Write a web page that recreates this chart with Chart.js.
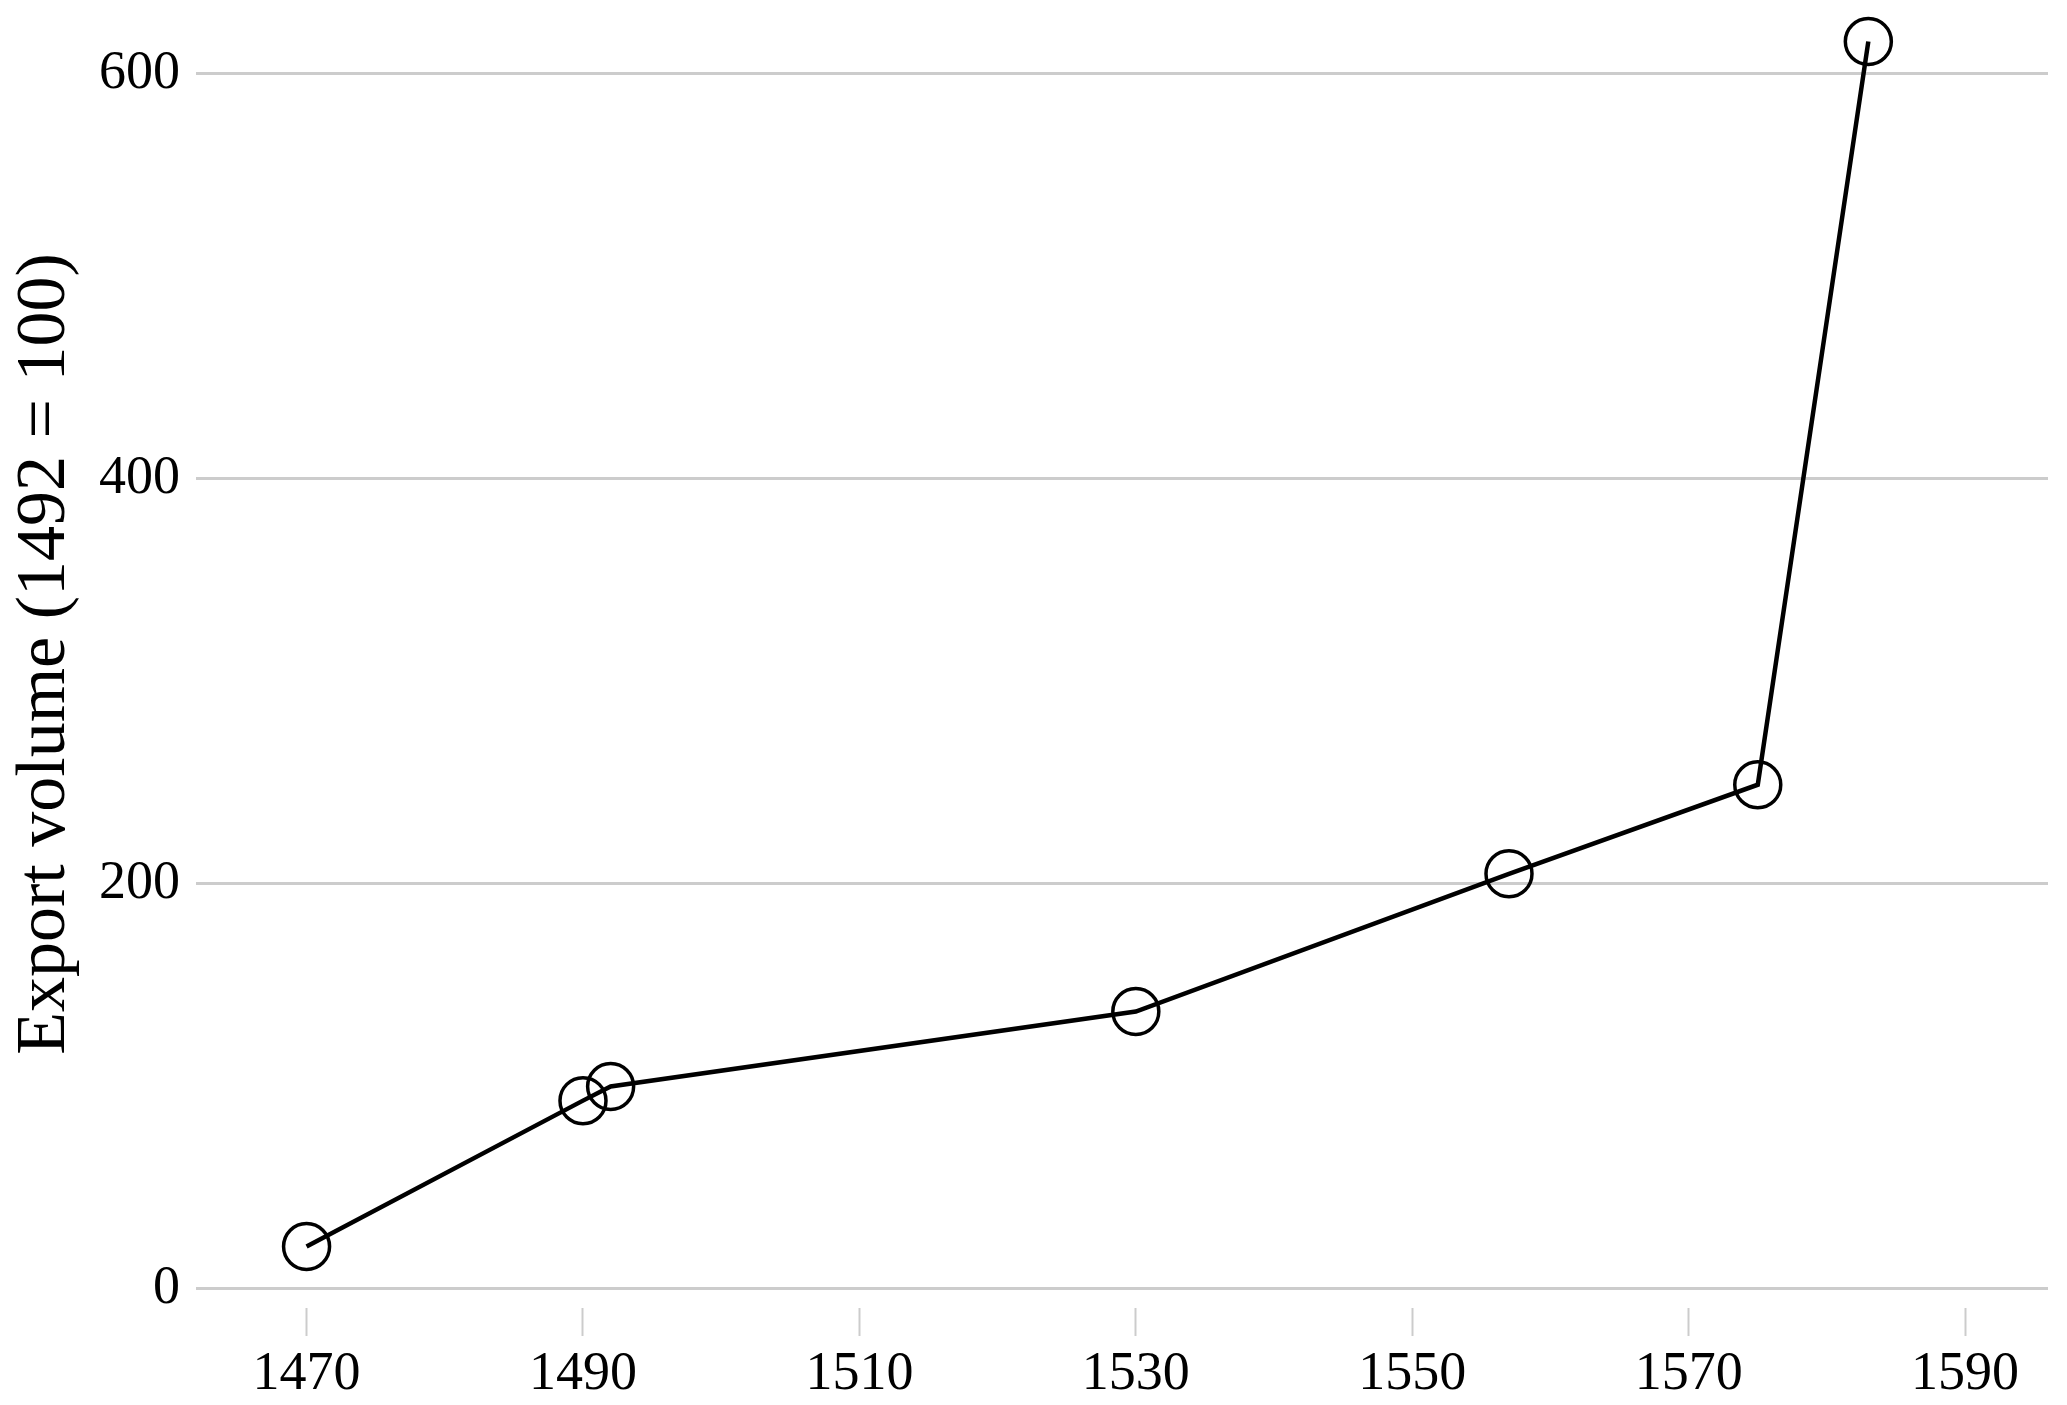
<!DOCTYPE html>
<html>
<head>
<meta charset="utf-8">
<script src="https://cdn.jsdelivr.net/npm/chart.js@4/dist/chart.umd.min.js"></script>
<style>
  html, body { margin: 0; padding: 0; background: #ffffff; }
  #wrap { width: 2067px; height: 1405px; position: relative; }
</style>
</head>
<body>
<div id="wrap"><canvas id="c"></canvas></div>
<script>
const years = [1470, 1490, 1492, 1530, 1557, 1575, 1583];
const exportVolume = [21, 93, 100, 137, 205, 249, 616];
const xTickValues = [1470, 1490, 1510, 1530, 1550, 1570, 1590];
const yTickValues = [0, 200, 400, 600];
const yAxisTitle = 'Export volume (1492 = 100)';

const FONT = "'Liberation Serif', 'Times New Roman', serif";

function setPad(s) {
  s.paddingLeft = 0; s.paddingRight = 0; s.paddingTop = 0; s.paddingBottom = 0;
}

new Chart(document.getElementById('c'), {
  type: 'line',
  data: {
    datasets: [{
      data: years.map((y, i) => ({ x: y, y: exportVolume[i] })),
      borderColor: '#000000',
      borderWidth: 4.5,
      tension: 0,
      fill: false,
      pointRadius: 23,
      pointHoverRadius: 23,
      pointBorderWidth: 3.5,
      pointBorderColor: '#000000',
      pointBackgroundColor: 'rgba(0,0,0,0)',
      clip: false
    }]
  },
  options: {
    responsive: true,
    maintainAspectRatio: false,
    animation: false,
    events: [],
    layout: { autoPadding: false, padding: { left: 0, right: 19, top: 0, bottom: 0 } },
    plugins: { legend: { display: false }, tooltip: { enabled: false }, title: { display: false } },
    scales: {
      x: {
        type: 'linear',
        min: 1462,
        max: 1596,
        afterBuildTicks: s => { s.ticks = xTickValues.map(v => ({ value: v })); },
        afterFit: s => { s.height = 97; setPad(s); },
        border: { display: false },
        grid: {
          display: true,
          drawOnChartArea: false,
          drawTicks: true,
          tickLength: 28,
          tickColor: '#cccccc',
          tickWidth: 2
        },
        ticks: {
          color: '#000000',
          font: { family: FONT, size: 54 },
          padding: 6,
          maxRotation: 0,
          autoSkip: false,
          callback: v => String(v)
        }
      },
      y: {
        type: 'linear',
        min: -9.4,
        max: 636.5,
        afterBuildTicks: s => { s.ticks = yTickValues.map(v => ({ value: v })); },
        afterFit: s => { s.width = 196; setPad(s); },
        border: { display: false },
        grid: {
          color: '#cccccc',
          lineWidth: 3,
          drawTicks: false
        },
        ticks: {
          color: '#000000',
          font: { family: FONT, size: 54 },
          padding: 16,
          autoSkip: false,
          callback: v => String(v)
        },
        title: {
          display: true,
          text: yAxisTitle,
          color: '#000000',
          font: { family: FONT, size: 70, lineHeight: 1 },
          padding: { top: 11, bottom: 0 }
        }
      }
    }
  }
});
</script>
</body>
</html>
